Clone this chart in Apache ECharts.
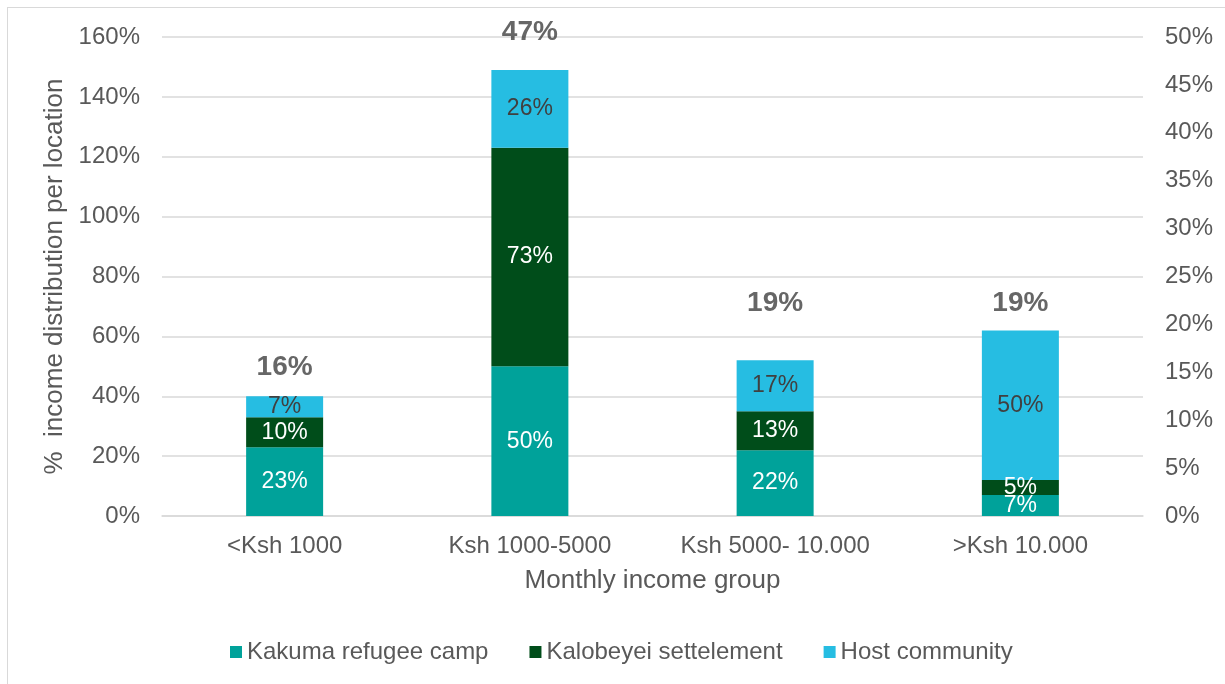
<!DOCTYPE html>
<html><head><meta charset="utf-8">
<script src="https://cdn.jsdelivr.net/npm/echarts@6/dist/echarts.min.js"></script>
<style>
html,body{margin:0;padding:0;background:#fff;}
#frame{position:absolute;left:7px;top:7px;width:1230px;height:700px;border:1px solid #d9d9d9;box-sizing:border-box;}
#chart{position:absolute;left:0;top:0;width:1225px;height:684px;}
</style>
</head><body>
<div id="frame"></div>
<div id="chart"></div>
<script>
const categories = ['<Ksh 1000', 'Ksh 1000-5000', 'Ksh 5000- 10.000', '>Ksh 10.000'];
const kakuma = [23, 50, 22, 7];
const kalobeyei = [10, 73, 13, 5];
const host = [7, 26, 17, 50];
const totals = [16, 47, 19, 19];
const leftTicks = [0, 20, 40, 60, 80, 100, 120, 140, 160];
const rightTicks = [0, 5, 10, 15, 20, 25, 30, 35, 40, 45, 50];

const font = 'Liberation Sans, Arial, sans-serif';
const totalOffsets = [[0, 5], [0, -33], [0, -31], [0, -31]];

const chart = echarts.init(document.getElementById('chart'));
const barLabel = (color) => ({
  show: true, position: 'inside', color: color, fontSize: 23, fontFamily: font,
  formatter: p => p.value + '%'
});
chart.setOption({
  animation: false,
  textStyle: { fontFamily: font },
  grid: { left: 162, right: 82, top: 37, bottom: 168 },
  legend: {
    bottom: 15, left: 225, itemWidth: 12, itemHeight: 12, itemGap: 41,
    icon: 'rect',
    textStyle: { fontSize: 24, color: '#595959', fontFamily: font, padding: [0, 0, 0, 0] },
    data: ['Kakuma refugee camp', 'Kalobeyei settelement', 'Host community']
  },
  xAxis: {
    type: 'category', data: categories,
    name: 'Monthly income group', nameLocation: 'middle', nameGap: 52,
    nameTextStyle: { fontSize: 26, color: '#595959' },
    axisLine: { lineStyle: { color: '#d9d9d9', width: 1.5 } },
    axisTick: { show: false },
    axisLabel: { fontSize: 24, color: '#595959', margin: 18, interval: 0, hideOverlap: false }
  },
  yAxis: [{
    type: 'value', min: leftTicks[0], max: leftTicks[leftTicks.length - 1], interval: 20,
    name: '%  income distribution per location', nameLocation: 'middle', nameGap: 88,
    nameTextStyle: { fontSize: 26, color: '#595959' },
    axisLabel: { fontSize: 24, color: '#595959', margin: 22, formatter: v => v + '%' },
    splitLine: { lineStyle: { color: '#d9d9d9', width: 1.5 } },
    axisLine: { show: false }, axisTick: { show: false }
  }, {
    type: 'value', min: rightTicks[0], max: rightTicks[rightTicks.length - 1], interval: 5,
    position: 'right',
    axisLabel: { fontSize: 24, color: '#595959', margin: 22, formatter: v => v + '%' },
    splitLine: { show: false }, axisLine: { show: false }, axisTick: { show: false }
  }],
  series: [{
    name: 'Kakuma refugee camp', type: 'bar', stack: 'a', barWidth: 77,
    itemStyle: { color: '#00A29A' }, data: kakuma, label: barLabel('#ffffff')
  }, {
    name: 'Kalobeyei settelement', type: 'bar', stack: 'a',
    itemStyle: { color: '#004D1A' }, data: kalobeyei, label: barLabel('#ffffff')
  }, {
    name: 'Host community', type: 'bar', stack: 'a',
    itemStyle: { color: '#26BDE2' }, data: host, label: barLabel('#404040')
  }, {
    name: 'Total', type: 'scatter', yAxisIndex: 1, symbolSize: 0.001,
    data: totals.map((v, i) => ({
      value: v,
      label: { show: true, position: 'inside', offset: totalOffsets[i],
        fontSize: 28, fontWeight: 'bold', color: '#404040', fontFamily: font,
        formatter: p => p.value + '%' }
    })),
    itemStyle: { color: 'transparent' }
  }]
});
</script>
</body></html>
